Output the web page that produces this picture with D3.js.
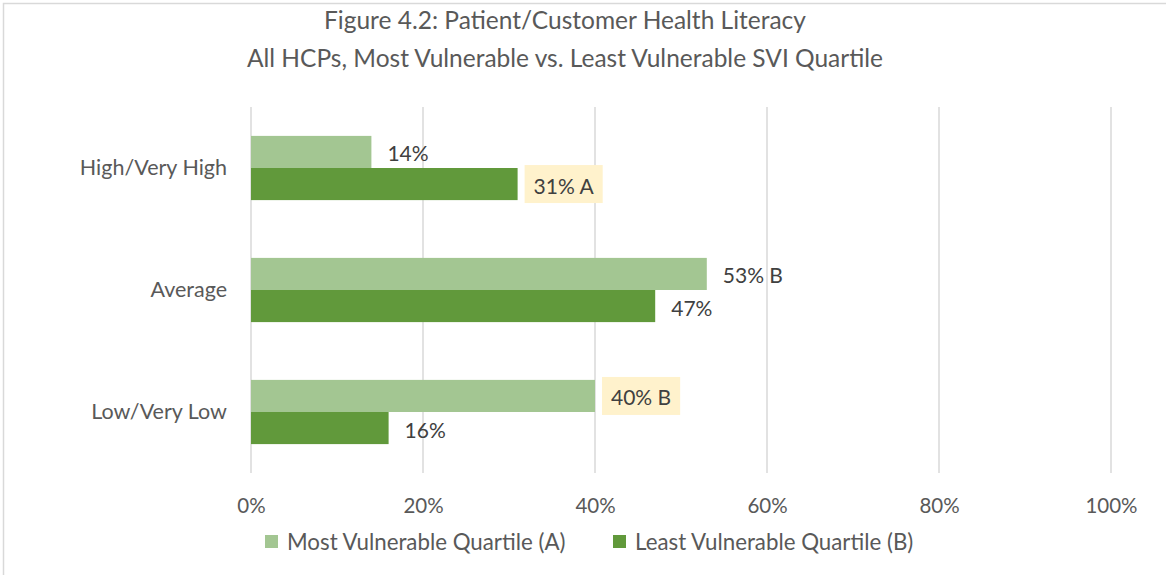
<!DOCTYPE html>
<html>
<head>
<meta charset="utf-8">
<script src="https://cdn.jsdelivr.net/npm/d3@7"></script>
<style>
  body { margin: 0; background: #fff; }
  svg text { font-family: Lato, "Open Sans", sans-serif; }
</style>
</head>
<body>
<div id="chart"></div>
<script>
// podaci
const categories = ["High/Very High", "Average", "Low/Very Low"];
const seriesNames = ["Most Vulnerable Quartile (A)", "Least Vulnerable Quartile (B)"];
const mostVulnerable = [14, 53, 40];
const leastVulnerable = [31, 47, 16];
const mostNotes = ["", "B", "B"];
const leastNotes = ["A", "", ""];
const mostHighlight = [false, false, true];
const leastHighlight = [true, false, false];
const xTicks = [0, 20, 40, 60, 80, 100];
const titleLines = [
  "Figure 4.2: Patient/Customer Health Literacy",
  "All HCPs, Most Vulnerable vs. Least Vulnerable SVI Quartile"
];

const colors = ["#A3C692", "#61993B"];

const data = categories.map((c, i) => ({
  category: c,
  values: [
    { key: 0, value: mostVulnerable[i], note: mostNotes[i], hl: mostHighlight[i] },
    { key: 1, value: leastVulnerable[i], note: leastNotes[i], hl: leastHighlight[i] }
  ]
}));

const dim = {
  width: 1166,
  height: 575,
  margin: { top: 107, right: 55, bottom: 102, left: 251 }
};
dim.boundsWidth = dim.width - dim.margin.left - dim.margin.right;
dim.boundsHeight = dim.height - dim.margin.top - dim.margin.bottom;

const svg = d3.select("#chart").append("svg")
  .attr("width", dim.width)
  .attr("height", dim.height);

// okvir
svg.append("rect")
  .attr("x", 3.5).attr("y", 3.5)
  .attr("width", dim.width + 10).attr("height", dim.height + 10)
  .attr("fill", "none")
  .attr("stroke", "#D9D9D9")
  .attr("stroke-width", 1.5);

// naslov
svg.append("g").selectAll("text")
  .data(titleLines)
  .join("text")
  .attr("x", 565)
  .attr("y", (d, i) => 29 + i * 38)
  .attr("text-anchor", "middle")
  .attr("font-size", 24.5)
  .attr("fill", "#595959")
  .text(d => d);

const bounds = svg.append("g")
  .attr("transform", `translate(${dim.margin.left},${dim.margin.top})`);

const x = d3.scaleLinear()
  .domain([0, 100])
  .range([0, dim.boundsWidth]);

const y0 = d3.scaleBand()
  .domain(categories)
  .range([0, dim.boundsHeight]);

const y1 = d3.scaleBand()
  .domain([0, 1])
  .range([0, y0.bandwidth()])
  .paddingOuter(0.9);

// mreža
bounds.append("g")
  .selectAll("line")
  .data(xTicks)
  .join("line")
  .attr("x1", d => x(d)).attr("x2", d => x(d))
  .attr("y1", 0).attr("y2", dim.boundsHeight)
  .attr("stroke", "#D9D9D9")
  .attr("stroke-width", 1.5);

// x os
const xAxis = bounds.append("g")
  .attr("transform", `translate(0,${dim.boundsHeight})`)
  .call(d3.axisBottom(x).tickValues(xTicks).tickFormat(d => d + "%").tickSize(0).tickPadding(25));
xAxis.select(".domain").remove();
xAxis.selectAll("text")
  .attr("font-size", 20.5)
  .attr("font-family", "Lato, sans-serif")
  .attr("fill", "#595959");

// y os
const yAxis = bounds.append("g")
  .call(d3.axisLeft(y0).tickSize(0).tickPadding(24));
yAxis.select(".domain").remove();
yAxis.selectAll("text")
  .attr("font-size", 21.5)
  .attr("font-family", "Lato, sans-serif")
  .attr("fill", "#595959");

// stupci
const groups = bounds.append("g")
  .selectAll("g")
  .data(data)
  .join("g")
  .attr("transform", d => `translate(0,${y0(d.category)})`);

groups.selectAll("rect")
  .data(d => d.values)
  .join("rect")
  .attr("x", 0)
  .attr("y", d => y1(d.key))
  .attr("width", d => x(d.value))
  .attr("height", y1.bandwidth())
  .attr("fill", d => colors[d.key]);

// oznake
const labels = groups.selectAll("g.lbl")
  .data(d => d.values)
  .join("g")
  .attr("class", "lbl")
  .attr("transform", d => `translate(${x(d.value) + 16},${y1(d.key) + y1.bandwidth() / 2 + 1})`);

labels.append("text")
  .attr("dominant-baseline", "central")
  .attr("font-size", 21)
  .attr("fill", "#404040")
  .text(d => d.value + "%" + (d.note ? " " + d.note : ""));

labels.filter(d => d.hl).each(function() {
  const g = d3.select(this);
  const w = g.select("text").node().getComputedTextLength();
  g.insert("rect", "text")
    .attr("x", -9)
    .attr("y", -20)
    .attr("width", w + 18)
    .attr("height", 38)
    .attr("fill", "#FFF2CC");
});

// legenda
const legend = svg.append("g")
  .attr("transform", "translate(0,541)");
const legendX = [265, 613];
const li = legend.selectAll("g")
  .data(seriesNames)
  .join("g")
  .attr("transform", (d, i) => `translate(${legendX[i]},0)`);
li.append("rect")
  .attr("x", 0).attr("y", -6)
  .attr("width", 13).attr("height", 13)
  .attr("fill", (d, i) => colors[i]);
li.append("text")
  .attr("x", 22)
  .attr("dominant-baseline", "central")
  .attr("font-size", 22.3)
  .attr("fill", "#595959")
  .text(d => d);
</script>
</body>
</html>
